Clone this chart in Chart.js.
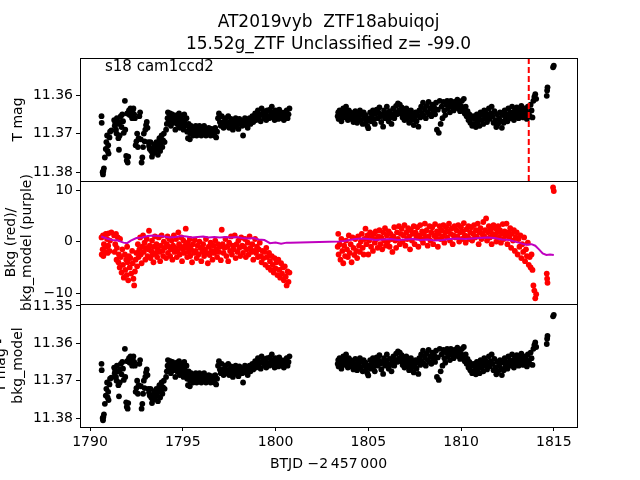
<!DOCTYPE html>
<html>
<head>
<meta charset="utf-8">
<script src="https://cdn.jsdelivr.net/npm/chart.js@4.4.1/dist/chart.umd.min.js"></script>
<style>
  html, body { margin: 0; padding: 0; background: #fff; }
  #wrap { width: 640px; height: 480px; }
</style>
</head>
<body>
<div id="wrap"><canvas id="lc" width="640" height="480"></canvas></div>
<script>
// Light curve samples (BTJD - 2457000)
const lcTime = [
  1790.62, 1790.63, 1790.68, 1790.70, 1790.72, 1790.75, 1790.80, 1790.85, 1790.88, 1790.92,
  1790.95, 1790.98, 1791.00, 1791.05, 1791.08, 1791.15, 1791.30, 1791.33, 1791.36, 1791.40,
  1791.43, 1791.45, 1791.50, 1791.53, 1791.56, 1791.60, 1791.62, 1791.66, 1791.70, 1791.74,
  1791.78, 1791.82, 1791.88, 1791.90, 1791.95, 1791.98, 1792.00, 1792.03, 1792.06, 1792.10,
  1792.14, 1792.18, 1792.22, 1792.27, 1792.30, 1792.34, 1792.38, 1792.42, 1792.46, 1792.50,
  1792.54, 1792.58, 1792.62, 1792.66, 1792.70, 1792.74, 1792.78, 1792.82, 1792.86, 1792.90,
  1792.94, 1792.98, 1793.02, 1793.06, 1793.10, 1793.14, 1793.18, 1793.22, 1793.26, 1793.30,
  1793.34, 1793.38, 1793.42, 1793.46, 1793.50, 1793.54, 1793.58, 1793.62, 1793.66, 1793.70,
  1793.74, 1793.78, 1793.82, 1793.86, 1793.90, 1793.94, 1793.98, 1794.02, 1794.10, 1794.14,
  1794.18, 1794.20, 1794.24, 1794.28, 1794.32, 1794.36, 1794.40, 1794.44, 1794.48, 1794.52,
  1794.56, 1794.60, 1794.64, 1794.68, 1794.72, 1794.76, 1794.80, 1794.84, 1794.88, 1794.92,
  1794.96, 1795.00, 1795.04, 1795.08, 1795.12, 1795.16, 1795.20, 1795.24, 1795.28, 1795.32,
  1795.36, 1795.38, 1795.40, 1795.45, 1795.50, 1795.55, 1795.60, 1795.65, 1795.70, 1795.75,
  1795.80, 1795.85, 1795.90, 1795.95, 1796.00, 1796.05, 1796.10, 1796.15, 1796.20, 1796.25,
  1796.30, 1796.35, 1796.40, 1796.45, 1796.50, 1796.55, 1796.60, 1796.65, 1796.70, 1796.75,
  1796.80, 1796.85, 1796.90, 1796.95, 1797.00, 1797.05, 1797.10, 1797.15, 1797.20, 1797.25,
  1797.30, 1797.35, 1797.40, 1797.45, 1797.50, 1797.55, 1797.60, 1797.65, 1797.70, 1797.75,
  1797.80, 1797.85, 1797.90, 1797.95, 1798.00, 1798.05, 1798.10, 1798.15, 1798.20, 1798.25,
  1798.30, 1798.35, 1798.40, 1798.45, 1798.50, 1798.55, 1798.60, 1798.65, 1798.70, 1798.75,
  1798.80, 1798.85, 1798.90, 1798.95, 1799.00, 1799.05, 1799.10, 1799.15, 1799.20, 1799.25,
  1799.30, 1799.35, 1799.40, 1799.45, 1799.50, 1799.55, 1799.60, 1799.65, 1799.70, 1799.75,
  1799.80, 1799.85, 1799.90, 1799.95, 1800.00, 1800.05, 1800.10, 1800.15, 1800.20, 1800.25,
  1800.30, 1800.35, 1800.40, 1800.45, 1800.50, 1800.55, 1800.60, 1800.65, 1800.70, 1800.75,
  // second orbit
  1803.35, 1803.38, 1803.40, 1803.45, 1803.50, 1803.55, 1803.60, 1803.65, 1803.70, 1803.75,
  1803.80, 1803.85, 1803.90, 1803.95, 1804.00, 1804.05, 1804.10, 1804.15, 1804.20, 1804.25,
  1804.30, 1804.35, 1804.40, 1804.45, 1804.50, 1804.55, 1804.60, 1804.65, 1804.70, 1804.75,
  1804.80, 1804.85, 1804.90, 1804.95, 1805.00, 1805.05, 1805.10, 1805.15, 1805.20, 1805.25,
  1805.30, 1805.35, 1805.40, 1805.45, 1805.50, 1805.55, 1805.60, 1805.65, 1805.70, 1805.75,
  1805.80, 1805.85, 1805.90, 1805.95, 1806.00, 1806.05, 1806.10, 1806.15, 1806.20, 1806.25,
  1806.30, 1806.35, 1806.40, 1806.45, 1806.50, 1806.55, 1806.60, 1806.65, 1806.70, 1806.75,
  1806.80, 1806.85, 1806.90, 1806.95, 1807.00, 1807.05, 1807.10, 1807.15, 1807.20, 1807.25,
  1807.30, 1807.35, 1807.40, 1807.45, 1807.50, 1807.55, 1807.60, 1807.65, 1807.70, 1807.75,
  1807.80, 1807.85, 1807.90, 1807.95, 1808.00, 1808.05, 1808.10, 1808.15, 1808.20, 1808.25,
  1808.30, 1808.35, 1808.40, 1808.45, 1808.50, 1808.55, 1808.60, 1808.65, 1808.70, 1808.75,
  1808.80, 1808.85, 1808.90, 1808.95, 1809.00, 1809.05, 1809.10, 1809.15, 1809.20, 1809.25,
  1809.30, 1809.35, 1809.40, 1809.45, 1809.50, 1809.55, 1809.60, 1809.65, 1809.70, 1809.75,
  1809.80, 1809.85, 1809.90, 1809.95, 1810.00, 1810.05, 1810.10, 1810.15, 1810.20, 1810.25,
  1810.30, 1810.35, 1810.40, 1810.45, 1810.50, 1810.55, 1810.60, 1810.65, 1810.70, 1810.75,
  1810.80, 1810.85, 1810.90, 1810.95, 1811.00, 1811.05, 1811.10, 1811.15, 1811.20, 1811.25,
  1811.30, 1811.35, 1811.40, 1811.45, 1811.50, 1811.55, 1811.60, 1811.65, 1811.70, 1811.75,
  1811.80, 1811.85, 1811.90, 1811.95, 1812.00, 1812.05, 1812.10, 1812.15, 1812.20, 1812.25,
  1812.30, 1812.35, 1812.40, 1812.45, 1812.50, 1812.55, 1812.60, 1812.65, 1812.70, 1812.75,
  1812.80, 1812.85, 1812.90, 1812.95, 1813.00, 1813.05, 1813.10, 1813.15, 1813.20, 1813.25,
  1813.30, 1813.35, 1813.40, 1813.45, 1813.50, 1813.55, 1813.60, 1813.65, 1813.70, 1813.75,
  1813.80, 1813.85, 1813.90, 1813.95, 1814.00, 1814.05, 1814.62, 1814.64, 1814.66, 1814.96,
  1815.00
];

// TESS magnitude
const lcMag = [
  11.3655, 11.3672, 11.3800, 11.3806, 11.3797, 11.3790, 11.3762, 11.3740, 11.3722, 11.3705,
  11.3745, 11.3730, 11.3752, 11.3710, 11.3695, 11.3692, 11.3665, 11.3680, 11.3672, 11.3690,
  11.3700, 11.3660, 11.3675, 11.3712, 11.3742, 11.3705, 11.3670, 11.3655, 11.3683, 11.3650,
  11.3668, 11.3698, 11.3615, 11.3690, 11.3758, 11.3770, 11.3648, 11.3775, 11.3760, 11.3640,
  11.3652, 11.3635, 11.3645, 11.3660, 11.3640, 11.3635, 11.3650, 11.3660, 11.3730, 11.3720,
  11.3700, 11.3735, 11.3712, 11.3655, 11.3645, 11.3715, 11.3775, 11.3762, 11.3735, 11.3700,
  11.3720, 11.3690, 11.3678, 11.3670, 11.3685, 11.3722, 11.3732, 11.3740, 11.3722, 11.3745,
  11.3760, 11.3752, 11.3738, 11.3728, 11.3748, 11.3735, 11.3722, 11.3740, 11.3755, 11.3730,
  11.3712, 11.3745, 11.3725, 11.3705, 11.3735, 11.3718, 11.3700, 11.3722, 11.3690, 11.3675,
  11.3660, 11.3645, 11.3670, 11.3655, 11.3648, 11.3680, 11.3665, 11.3650, 11.3660, 11.3672,
  11.3658, 11.3690, 11.3668, 11.3652, 11.3676, 11.3662, 11.3648, 11.3685, 11.3670, 11.3655,
  11.3678, 11.3665, 11.3690, 11.3650, 11.3672, 11.3680, 11.3660, 11.3695, 11.3712, 11.3675,
  11.3688, 11.3715, 11.3700, 11.3680, 11.3692, 11.3705, 11.3685, 11.3698, 11.3680, 11.3705,
  11.3690, 11.3700, 11.3680, 11.3695, 11.3705, 11.3688, 11.3698, 11.3680, 11.3692, 11.3705,
  11.3690, 11.3700, 11.3685, 11.3698, 11.3705, 11.3688, 11.3700, 11.3692, 11.3705, 11.3685,
  11.3710, 11.3695, 11.3660, 11.3648, 11.3670, 11.3680, 11.3655, 11.3672, 11.3685, 11.3668,
  11.3660, 11.3680, 11.3672, 11.3655, 11.3685, 11.3670, 11.3662, 11.3678, 11.3690, 11.3665,
  11.3675, 11.3660, 11.3682, 11.3670, 11.3688, 11.3662, 11.3675, 11.3668, 11.3680, 11.3705,
  11.3670, 11.3660, 11.3678, 11.3665, 11.3685, 11.3672, 11.3660, 11.3675, 11.3665, 11.3655,
  11.3670, 11.3660, 11.3648, 11.3665, 11.3655, 11.3640, 11.3660, 11.3650, 11.3668, 11.3635,
  11.3652, 11.3642, 11.3660, 11.3648, 11.3665, 11.3640, 11.3655, 11.3660, 11.3638, 11.3650,
  11.3630, 11.3658, 11.3645, 11.3665, 11.3640, 11.3655, 11.3648, 11.3662, 11.3638, 11.3652,
  11.3645, 11.3660, 11.3650, 11.3665, 11.3645, 11.3655, 11.3640, 11.3660, 11.3650, 11.3635,
  // second orbit
  11.3655, 11.3645, 11.3662, 11.3640, 11.3655, 11.3668, 11.3648, 11.3635, 11.3658, 11.3642,
  11.3630, 11.3652, 11.3665, 11.3640, 11.3655, 11.3645, 11.3662, 11.3650, 11.3670, 11.3655,
  11.3642, 11.3660, 11.3672, 11.3648, 11.3658, 11.3640, 11.3665, 11.3650, 11.3675, 11.3645,
  11.3660, 11.3652, 11.3668, 11.3680, 11.3686, 11.3660, 11.3645, 11.3668, 11.3652, 11.3640,
  11.3662, 11.3675, 11.3648, 11.3638, 11.3660, 11.3645, 11.3632, 11.3655, 11.3670, 11.3650,
  11.3682, 11.3640, 11.3660, 11.3648, 11.3630, 11.3655, 11.3668, 11.3642, 11.3658, 11.3675,
  11.3650, 11.3635, 11.3660, 11.3645, 11.3628, 11.3650, 11.3622, 11.3640, 11.3625, 11.3648,
  11.3632, 11.3658, 11.3640, 11.3665, 11.3650, 11.3635, 11.3660, 11.3645, 11.3672, 11.3655,
  11.3640, 11.3665, 11.3650, 11.3678, 11.3660, 11.3645, 11.3668, 11.3652, 11.3682, 11.3640,
  11.3658, 11.3630, 11.3648, 11.3620, 11.3655, 11.3638, 11.3660, 11.3628, 11.3645, 11.3618,
  11.3650, 11.3635, 11.3655, 11.3625, 11.3642, 11.3632, 11.3650, 11.3620, 11.3690, 11.3638,
  11.3698, 11.3615, 11.3675, 11.3630, 11.3660, 11.3618, 11.3640, 11.3652, 11.3625, 11.3615,
  11.3635, 11.3622, 11.3645, 11.3615, 11.3630, 11.3620, 11.3640, 11.3618, 11.3632, 11.3625,
  11.3612, 11.3635, 11.3620, 11.3642, 11.3628, 11.3615, 11.3638, 11.3610, 11.3648, 11.3630,
  11.3655, 11.3642, 11.3665, 11.3650, 11.3672, 11.3660, 11.3680, 11.3655, 11.3675, 11.3662,
  11.3683, 11.3650, 11.3670, 11.3658, 11.3680, 11.3645, 11.3665, 11.3652, 11.3675, 11.3640,
  11.3660, 11.3648, 11.3670, 11.3655, 11.3635, 11.3662, 11.3648, 11.3630, 11.3655, 11.3672,
  11.3642, 11.3665, 11.3683, 11.3650, 11.3675, 11.3660, 11.3645, 11.3668, 11.3685, 11.3652,
  11.3672, 11.3640, 11.3662, 11.3650, 11.3668, 11.3635, 11.3655, 11.3645, 11.3660, 11.3630,
  11.3650, 11.3665, 11.3640, 11.3655, 11.3632, 11.3648, 11.3660, 11.3638, 11.3652, 11.3628,
  11.3645, 11.3658, 11.3635, 11.3650, 11.3640, 11.3662, 11.3630, 11.3648, 11.3655, 11.3625,
  11.3640, 11.3658, 11.3615, 11.3605, 11.3598, 11.3610, 11.3602, 11.3588, 11.3580, 11.3528,
  11.3524
];

// Background flux at the same cadences
const bkgFlux = [
  0.8, -2.5, -1.5, 1.2, -2.8, -0.5, -2.0, 1.5, -1.0, 0.5,
  -2.2, -0.8, 1.6, -1.8, 0.2, 1.8, 1.2, -2.0, -0.5, 1.5,
  -3.5, -1.2, 0.8, -4.0, -2.5, -5.0, 0.5, -3.0, -6.0, -1.5,
  -4.5, -7.0, -2.5, -5.5, -3.5, -6.5, -1.0, -4.0, -7.5, -2.8,
  -5.0, -3.2, -6.2, -1.8, -4.2, -7.2, -8.5, -5.8, -3.5, -2.2,
  -4.8, -0.5, -3.0, -1.5, 0.8, -2.5, -4.2, -1.0, 1.2, -2.0,
  -0.2, -3.5, -1.2, 0.5, -2.8, -1.5, 2.1, -0.8, -3.2, -1.8,
  0.2, -2.5, -4.0, -1.0, 1.0, -2.2, -0.5, -3.0, -1.5, 0.8,
  -2.0, -3.8, -0.8, 1.2, -1.8, -2.8, 0.0, -1.2, -3.2, -0.5,
  1.0, -2.2, -1.0, 0.5, -2.8, -1.5, 0.2, -3.5, -0.8, 1.2,
  -2.0, -1.2, 0.5, -3.0, -1.8, 1.8, -0.5, -2.5, -1.0, 0.8,
  -3.8, -1.5, 0.2, -2.2, -0.8, 2.5, -1.2, -3.0, -0.2, -2.0,
  -1.0, 0.5, -2.8, -1.5, -4.0, -0.5, -2.2, 0.3, -1.8, -3.2,
  -0.8, -2.5, 0.0, -1.2, -3.8, -2.0, -0.5, -2.8, -1.5, 0.5,
  -2.2, -4.2, -1.0, -2.6, -0.2, -1.8, -3.5, -0.8, -2.2, 0.2,
  -1.5, -3.0, -0.5, -2.0, -1.0, -3.6, 2.3, -0.5, -2.2, -1.2,
  0.5, -2.8, -1.0, -3.8, -0.2, -1.8, 1.0, -2.5, -0.8, -1.5,
  1.2, -3.2, -0.5, -2.0, 0.2, -1.2, -2.8, 0.8, -0.8, -2.2,
  -1.0, 0.5, -3.0, -1.5, -0.2, -2.5, 1.0, -1.2, -2.0, -0.5,
  -3.5, -1.8, 0.5, -2.2, -1.0, -3.0, -1.5, -0.2, -2.8, -4.0,
  -1.8, -3.2, -2.0, -4.5, -1.2, -3.0, -5.0, -2.2, -3.8, -5.5,
  -2.8, -4.5, -6.0, -3.2, -5.2, -4.0, -6.5, -3.5, -5.5, -7.0,
  -4.2, -6.2, -5.0, -7.5, -4.8, -6.8, -8.5, -5.8, -7.8, -6.0,
  // second orbit
  -1.0, 1.5, -2.5, -0.5, -3.5, 0.5, -1.8, -4.2, -0.8, -2.8,
  0.2, -1.5, -3.0, 1.2, -2.2, -0.5, -4.0, 0.8, -1.2, -2.6,
  0.5, -1.8, -3.2, 1.0, -0.8, -2.0, 0.0, 1.5, -1.2, -2.5,
  0.5, 2.5, -0.5, 1.2, -2.5, 0.2, 1.8, -1.0, 0.8, -1.8,
  1.5, -0.2, 2.0, 0.5, -1.2, 1.0, 2.2, -0.5, 0.8, -1.5,
  1.8, 0.2, 2.6, -0.8, 1.2, 0.0, 2.0, -1.0, 1.5, 0.5,
  -2.0, 1.0, 2.8, 0.2, -1.2, 1.8, 0.5, 3.0, -0.5, 1.5,
  2.5, 0.0, 1.2, 3.2, -0.8, 1.8, 0.5, 2.6, 1.0, -1.5,
  2.2, 0.2, 1.5, 3.0, -0.5, 1.8, 0.8, 2.8, -1.0, 1.2,
  3.2, 0.5, 2.0, -0.2, 1.5, 3.5, 0.8, 2.2, -0.8, 1.0,
  3.0, 0.2, 1.8, 2.8, -0.5, 1.2, 3.4, 0.8, 2.0, -1.0,
  1.5, 3.0, 0.5, 2.2, 1.0, 3.2, -0.2, 1.8, 2.8, 0.8,
  2.0, 3.5, 0.2, 1.5, 2.6, -0.5, 1.2, 3.0, 0.8, 2.2,
  1.0, 3.2, 0.0, 1.8, 2.8, 0.5, 2.0, 3.6, 1.2, -0.2,
  2.4, 1.0, 3.0, 0.5, 1.8, 2.8, 0.2, 1.5, 3.2, 0.8,
  2.2, 1.0, 3.5, -0.5, 1.8, 2.6, 0.5, 1.5, 3.8, 1.0,
  2.2, 4.5, 0.2, 1.8, 3.0, 0.8, 2.4, -0.5, 1.5, 3.2,
  1.0, 2.6, 0.0, 1.8, 3.0, 0.8, 2.2, -0.2, 1.5, 3.4,
  0.5, 2.0, 1.2, 3.5, -0.5, 1.8, 0.8, 2.6, -1.2, 1.5,
  0.2, 2.2, -1.8, 0.8, 1.8, -2.5, 0.5, -1.0, 1.2, -3.2,
  -0.5, -2.0, 0.8, -3.8, -1.5, -2.8, -0.2, -4.5, -3.0, -5.0,
  -2.5, -5.5, -8.5, -9.5, -11.0, -10.2, -6.2, -7.2, -8.0, 10.5,
  9.8
];

// Smoothed background model
const modelTime = [
  1790.6, 1790.9, 1791.2, 1791.5, 1791.8, 1792.0, 1792.2, 1792.5, 1792.8, 1793.1,
  1793.4, 1793.7, 1794.0, 1794.3, 1794.6, 1794.9, 1795.2, 1795.5, 1795.8, 1796.1,
  1796.4, 1796.7, 1797.0, 1797.3, 1797.6, 1797.9, 1798.2, 1798.5, 1798.8, 1799.1,
  1799.4, 1799.7, 1800.0, 1800.3, 1800.6, 1800.8, 1803.4, 1803.7, 1804.0, 1804.3,
  1804.6, 1805.0, 1805.4, 1805.8, 1806.2, 1806.6, 1807.0, 1807.4, 1807.8, 1808.2,
  1808.6, 1809.0, 1809.4, 1809.8, 1810.2, 1810.6, 1811.0, 1811.4, 1811.8, 1812.2,
  1812.6, 1812.9, 1813.2, 1813.5, 1813.8, 1814.0, 1814.2, 1814.4, 1814.6, 1814.8,
  1815.0
];
const bkgModel = [
  1.0, 0.6, 0.3, 0.2, -0.2, -0.3, 0.2, 0.7, 0.8, 1.1,
  1.2, 1.1, 1.0, 0.8, 0.9, 1.1, 1.0, 0.8, 0.9, 1.0,
  0.8, 0.9, 0.8, 0.9, 0.8, 0.9, 0.7, 0.6, 0.7, 0.4,
  0.3, -0.3, -0.2, -0.4, -0.2, -0.2, 0.0, 0.1, 0.3, 0.5,
  0.6, 0.5, 0.3, 0.4, 0.5, 0.3, 0.4, 0.5, 0.3, 0.4,
  0.2, 0.3, 0.5, 0.6, 0.5, 0.6, 0.7, 0.8, 0.7, 0.4,
  0.3, 0.0, -0.3, -0.6, -0.5, -0.8, -1.5, -2.3, -2.6, -2.5,
  -2.6
];

// Background-corrected magnitude (indistinguishable from T mag at this scale)
const corrMag = lcMag;

// Peak time marker
const peakTime = 1813.65;

// Ticks and labels
const timeTicks = [1790, 1795, 1800, 1805, 1810, 1815];
const magTicks = [11.36, 11.37, 11.38];
const bkgTicks = [-10, 0, 10];
const corrTicks = [11.35, 11.36, 11.37, 11.38];
const titleLines = ['AT2019vyb  ZTF18abuiqoj', '15.52g_ZTF Unclassified z= -99.0'];
const sectorLabel = 's18 cam1ccd2';
const xTitle = 'BTJD \u22122\u2009457\u2009000';

// Axis limits
const timeRange = [1789.46, 1816.25];
const magRange = [11.3504, 11.3823];
const bkgRange = [-12.1, 11.75];
const corrRange = [11.3495, 11.3824];

const FONT = '"DejaVu Sans", "Liberation Sans", sans-serif';

function toPoints(xs, ys) {
  return xs.map((x, i) => ({ x: x, y: ys[i] }));
}

function yAxis(range, ticks, reverse, fmt) {
  return {
    type: 'linear',
    position: 'left',
    stack: 'panels',
    stackWeight: 1,
    reverse: reverse,
    min: range[0],
    max: range[1],
    border: { display: true, color: '#000', width: 1 },
    grid: { display: true, drawOnChartArea: false, drawTicks: true, tickLength: 4, color: '#000' },
    ticks: {
      color: '#000',
      font: { family: FONT, size: 14 },
      padding: 3,
      callback: fmt
    },
    afterBuildTicks: scale => { scale.ticks = ticks.map(v => ({ value: v })); },
    afterFit: scale => { scale.width = 80; }
  };
}

const fmtMag = v => v.toFixed(2);
const fmtBkg = v => (v < 0 ? '\u2212' + Math.abs(v) : String(v));

// Frames around each panel plus the title and axis labels
const framePlugin = {
  id: 'frames',
  afterDraw(chart) {
    const ctx = chart.ctx;
    const area = chart.chartArea;
    ctx.save();
    ctx.strokeStyle = '#000';
    ctx.lineWidth = 1;
    ['yTop', 'yBkg', 'yCorr'].forEach(id => {
      const s = chart.scales[id];
      ctx.strokeRect(Math.round(area.left) + 0.5, Math.round(s.top) + 0.5,
        Math.round(area.right - area.left), Math.round(s.bottom - s.top));
    });

    const cx = (area.left + area.right) / 2;
    ctx.fillStyle = '#000';
    ctx.textAlign = 'center';
    ctx.textBaseline = 'alphabetic';
    ctx.font = '17px ' + FONT;
    ctx.fillText(titleLines[0], cx, 27);
    ctx.fillText(titleLines[1], cx, 49);

    ctx.textAlign = 'left';
    ctx.font = '15px ' + FONT;
    ctx.fillText(sectorLabel, 105, 71);

    ctx.textAlign = 'center';
    ctx.font = '14px ' + FONT;
    ctx.fillText(xTitle, cx, 468);

    const vText = (text, x, y) => {
      ctx.save();
      ctx.translate(x, y);
      ctx.rotate(-Math.PI / 2);
      ctx.textBaseline = 'middle';
      ctx.fillText(text, 0, 0);
      ctx.restore();
    };
    const top = chart.scales.yTop, mid = chart.scales.yBkg, bot = chart.scales.yCorr;
    vText('T mag', 18, (top.top + top.bottom) / 2);
    vText('Bkg (red)/', 11, (mid.top + mid.bottom) / 2);
    vText('bkg_model (purple)', 27, (mid.top + mid.bottom) / 2);
    vText('T mag -', 1, (bot.top + bot.bottom) / 2);
    vText('bkg_model', 18, (bot.top + bot.bottom) / 2);
    ctx.restore();
  }
};

new Chart(document.getElementById('lc'), {
  type: 'scatter',
  data: {
    datasets: [
      {
        type: 'line',
        data: toPoints(modelTime, bkgModel),
        yAxisID: 'yBkg',
        borderColor: '#bf00bf',
        borderWidth: 2,
        pointRadius: 0,
        tension: 0,
        order: 0
      },
      {
        type: 'line',
        data: [{ x: peakTime, y: magRange[0] }, { x: peakTime, y: magRange[1] }],
        yAxisID: 'yTop',
        borderColor: '#ff0000',
        borderWidth: 2,
        borderDash: [6, 3],
        pointRadius: 0,
        order: 0
      },
      {
        data: toPoints(lcTime, lcMag),
        yAxisID: 'yTop',
        backgroundColor: '#000',
        pointRadius: 2.9,
        borderWidth: 0,
        order: 1
      },
      {
        data: toPoints(lcTime, bkgFlux),
        yAxisID: 'yBkg',
        backgroundColor: '#ff0000',
        pointRadius: 2.9,
        borderWidth: 0,
        order: 1
      },
      {
        data: toPoints(lcTime, corrMag),
        yAxisID: 'yCorr',
        backgroundColor: '#000',
        pointRadius: 2.9,
        borderWidth: 0,
        order: 1
      }
    ]
  },
  options: {
    responsive: false,
    animation: false,
    devicePixelRatio: 1,
    layout: { padding: { top: 58, right: 63, bottom: 0, left: 0 } },
    plugins: {
      legend: { display: false },
      tooltip: { enabled: false },
      title: { display: false }
    },
    scales: {
      x: {
        type: 'linear',
        position: 'bottom',
        min: timeRange[0],
        max: timeRange[1],
        border: { display: true, color: '#000', width: 1 },
        grid: { display: true, drawOnChartArea: false, drawTicks: true, tickLength: 4, color: '#000' },
        ticks: {
          color: '#000',
          font: { family: FONT, size: 14 },
          padding: 3,
          maxRotation: 0,
          callback: v => String(v)
        },
        afterBuildTicks: scale => { scale.ticks = timeTicks.map(v => ({ value: v })); },
        afterFit: scale => { scale.height = 53; }
      },
      // stacked left axes are laid out in reverse order, so the bottom panel goes first
      yCorr: yAxis(corrRange, corrTicks, true, fmtMag),
      yBkg: yAxis(bkgRange, bkgTicks, false, fmtBkg),
      yTop: yAxis(magRange, magTicks, true, fmtMag)
    }
  },
  plugins: [framePlugin]
});
</script>
</body>
</html>
